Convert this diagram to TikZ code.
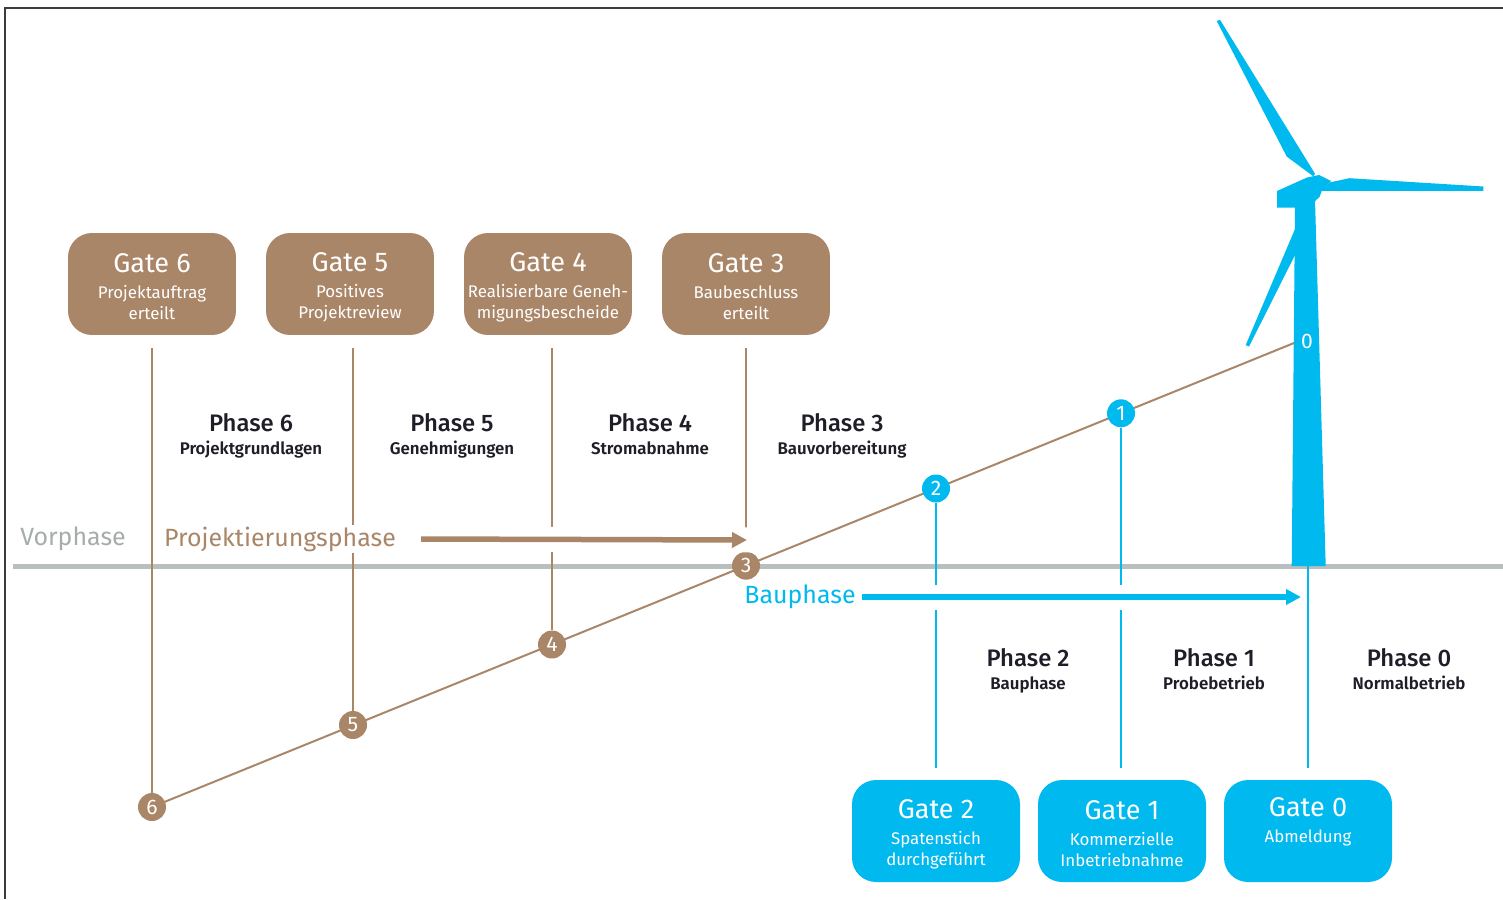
\documentclass[tikz,border=0pt]{standalone}
\usepackage{fontspec}
\setmainfont{Fira Sans}
\newfontfamily\medfont{Fira Sans Medium}
\newfontfamily\semifont{Fira Sans SemiBold}
\usepackage{xcolor}
\usetikzlibrary{arrows.meta}

\definecolor{braun}{RGB}{170,134,104}
\definecolor{blau}{RGB}{0,185,238}
\definecolor{grau}{RGB}{185,190,190}
\definecolor{grautext}{RGB}{165,172,172}
\definecolor{dunkel}{RGB}{30,30,40}
\definecolor{rahmen}{RGB}{60,60,60}

\newcommand{\gtitle}[1]{{\fontsize{15.4}{15}\selectfont\rule{0pt}{14.2pt}#1}}
\newcommand{\ptitle}[1]{{\medfont\fontsize{13.6}{13}\selectfont #1}}

\tikzset{
	gate/.style = {rounded corners = 0.48cm, minimum width = 3.36cm, minimum height = 2.04cm, inner sep = 0pt, text = white, align = center, font = \fontsize{9.6}{12}\selectfont},
	gatebraun/.style = {gate, fill = braun},
	gateblau/.style = {gate, fill = blau},
	phase/.style = {align = center, text = dunkel, text depth = 2.6pt, font = \semifont\fontsize{9.6}{13}\selectfont},
	dot/.style = {circle, minimum size = 0.56cm, inner sep = 0pt, text = white, font = \fontsize{12}{12}\selectfont},
	linie/.style = {line width = 0.04cm},
	phasenname/.style = {inner xsep = 0pt, inner ysep = 1pt, font = \fontsize{14.2}{14}\selectfont},
	pfeil/.style = {line width = 0.11cm, -{Triangle[length = 0.3cm, width = 0.3cm]}},
}

\begin{document}
\begin{tikzpicture}[x = 0.02cm, y = -0.02cm]
	\def\ygate{284};
	\def\yblau{831};
	\useasboundingbox (0,0) rectangle (1503,899);
	
	\draw [rahmen, line width = 0.04cm] (5,899) -- (5,8) -- (1503,8);
	\draw [grau, line width = 0.1cm] (13,566) -- (1503,566);
	
	% Windrad
	\fill [blau] (1291.7,566) -- (1325.7,566) -- (1315,200) -- (1295,207) -- cycle;
	\fill [blau] (1277,191) -- (1307,177.5) -- (1319,175) -- (1331,181) -- (1322,190) -- (1319.5,197) -- (1315,201) -- (1295,207.5) -- (1277,207.5) -- cycle;
	\fill [blau] (1216.7,21) -- (1220,19.8) -- (1315,173.7) -- (1313.3,176.3) -- (1286.7,156.5) -- cycle;
	\fill [blau] (1319.3,190.8) -- (1330,182.4) -- (1349.3,178.2) -- (1483.3,186.5) -- (1483.3,190.8) -- cycle;
	\fill [blau] (1295,229) -- (1245.7,345) -- (1249,346.6) -- (1295,255) -- cycle;
	\coordinate (fuss) at (1308,566);
	
	\node [gatebraun] (g6) at (152,\ygate) {\gtitle{Gate 6}\\[2.8pt]Projektauftrag\\erteilt};
	\node [gatebraun] (g5) at (350,\ygate) {\gtitle{Gate 5}\\[2.8pt]Positives\\Projektreview};
	\node [gatebraun] (g4) at (548,\ygate) {\gtitle{Gate 4}\\[2.8pt]Realisierbare Geneh-\\migungsbescheide};
	\node [gatebraun] (g3) at (746,\ygate) {\gtitle{Gate 3}\\[2.8pt]Baubeschluss\\erteilt};
	\node [gateblau] (g2) at (936,\yblau) {\gtitle{Gate 2}\\[2.8pt]Spatenstich\\durchgeführt};
	\node [gateblau] (g1) at (1122,\yblau) {\gtitle{Gate 1}\\[2.8pt]Kommerzielle\\Inbetriebnahme};
	\node [gateblau] (g0) at (1308,\yblau) {\gtitle{Gate 0}\\[2.8pt]Abmeldung\\\strut};
	
	\node [phase] (ph6) at (251,436) {\ptitle{Phase 6}\\Projektgrundlagen};
	\node [phase] (ph5) at (452,436) {\ptitle{Phase 5}\\Genehmigungen};
	\node [phase] (ph4) at (650,436) {\ptitle{Phase 4}\\Stromabnahme};
	\node [phase] (ph3) at (842,436) {\ptitle{Phase 3}\\Bauvorbereitung};
	\node [phase] (ph2) at (1028,671) {\ptitle{Phase 2}\\Bauphase};
	\node [phase] (ph1) at (1214,671) {\ptitle{Phase 1}\\Probebetrieb};
	\node [phase] (ph0) at (1409,671) {\ptitle{Phase 0}\\Normalbetrieb};
	
	% Linie der Gates
	\coordinate (p6) at (152,807);
	\coordinate (p5) at (353,725);
	\coordinate (p4) at (552,644.5);
	\coordinate (p3) at (746,565.7);
	\coordinate (p2) at (936,488.5);
	\coordinate (p1) at (1121,413.3);
	\coordinate (p0) at (1294,343);
	\draw [braun, linie] (p6) -- (p0);
	
	\node [dot, fill = braun] (c6) at (p6) {6};
	\node [dot, fill = braun] (c5) at (p5) {5};
	\node [dot, fill = braun] (c4) at (p4) {4};
	\node [dot, fill = braun] (c3) at (p3) {3};
	\node [dot, fill = blau] (c2) at (p2) {2};
	\node [dot, fill = blau] (c1) at (p1) {1};
	\node [dot] (c0) at (1307,341) {0};
	
	\draw [braun, linie, shorten <= 0.26cm] (g6) -- (c6);
	\draw [braun, linie, shorten <= 0.26cm] (g5.south -| c5) -- (c5);
	\draw [braun, linie, shorten <= 0.26cm] (g4.south -| c4) -- (c4);
	\draw [braun, linie, shorten <= 0.26cm] (g3) -- (c3);
	\draw [blau, linie, line width = 0.05cm, shorten >= 0.24cm] (c2) -- (g2);
	\draw [blau, linie, line width = 0.05cm, shorten >= 0.24cm] (c1) -- (g1.north -| c1);
	\draw [blau, linie, line width = 0.05cm, shorten >= 0.24cm] (fuss) -- (g0);
	
	% Phasen mit Pfeilen
	\node [phasenname, text = grautext] (vor) at (73,539) {Vorphase};
	\node [phasenname, text = braun, fill = white] (proj) at (280,539) {Projektierungsphase};
	\node [phasenname, text = blau] (bau) at (800,597) {Bauphase};
	\coordinate (projende) at (747,540);
	\coordinate (bauende) at (1301,597);
	
	\draw [white, line width = 0.5cm] ([xshift = 0.4cm]proj.east) -- ([xshift = 0.1cm]projende);
	\draw [white, line width = 0.5cm] ([xshift = 0.1cm]bau.east) -- (bauende);
	\draw [braun, pfeil] ([xshift = 0.5cm]proj.east) -- (projende);
	\draw [blau, pfeil] ([xshift = 0.12cm]bau.east) -- (bauende);
\end{tikzpicture}
\end{document}
